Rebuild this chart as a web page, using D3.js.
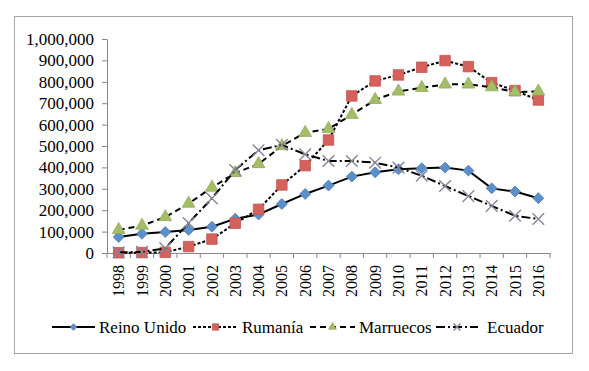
<!DOCTYPE html>
<html>
<head>
<meta charset="utf-8">
<script src="https://cdn.jsdelivr.net/npm/d3@7"></script>
<style>
  html, body { margin: 0; padding: 0; background: #fff; }
</style>
</head>
<body>
<div id="chart"></div>
<script>
const years = ['1998', '1999', '2000', '2001', '2002', '2003', '2004', '2005', '2006', '2007',
  '2008', '2009', '2010', '2011', '2012', '2013', '2014', '2015', '2016'];

const reinoUnido = [75000, 90000, 98000, 108000, 123000, 160000, 180000, 229000, 276000, 315000,
  357000, 377000, 391000, 396000, 399000, 385000, 302000, 287000, 256000];
const rumania = [1000, 2000, 3000, 30000, 65000, 139000, 204000, 318000, 408000, 528000,
  734000, 804000, 832000, 868000, 899000, 871000, 796000, 759000, 715000];
const marruecos = [108000, 128000, 168000, 231000, 306000, 374000, 416000, 500000, 562000, 580000,
  646000, 716000, 755000, 772000, 788000, 788000, 775000, 752000, 755000];
const ecuador = [3000, 5000, 22000, 140000, 255000, 388000, 480000, 505000, 461000, 430000,
  430000, 422000, 399000, 361000, 313000, 266000, 220000, 174000, 159000];

const yTicks = [0, 100000, 200000, 300000, 400000, 500000, 600000, 700000, 800000, 900000, 1000000];

const series = [
  { name: 'Reino Unido', values: reinoUnido, dash: null, marker: 'diamond', color: '#5b8fc9' },
  { name: 'Rumanía', values: rumania, dash: '3,2', marker: 'square', color: '#d6605c' },
  { name: 'Marruecos', values: marruecos, dash: '6,4', marker: 'triangle', color: '#a3be65' },
  { name: 'Ecuador', values: ecuador, dash: '9,3,2,3', marker: 'x', color: '#85859a' }
];

const width = 589;
const height = 371;
const plot = { left: 107, right: 550, top: 39, bottom: 253 };
const serif = '"Liberation Serif", "Times New Roman", serif';

const svg = d3.select('#chart').append('svg')
  .attr('width', width)
  .attr('height', height);

// outer frame
svg.append('rect')
  .attr('x', 14.5).attr('y', 16.5)
  .attr('width', 558).attr('height', 337)
  .attr('fill', '#fff')
  .attr('stroke', '#a6a6a6');

const x = d3.scaleBand().domain(years).range([plot.left, plot.right]).padding(0);
const y = d3.scaleLinear().domain([0, 1000000]).range([plot.bottom, plot.top]);
const cx = (year) => x(year) + x.bandwidth() / 2;

const fmt = d3.format(',');

// y axis
const yAxis = svg.append('g')
  .attr('transform', `translate(${plot.left},0)`)
  .call(d3.axisLeft(y).tickValues(yTicks).tickFormat(fmt).tickSize(5).tickSizeOuter(0).tickPadding(8));

yAxis.selectAll('.tick text')
  .style('font-family', serif)
  .style('font-size', '17px');

// x axis with ticks between categories
const xAxis = svg.append('g')
  .attr('transform', `translate(0,${plot.bottom})`)
  .call(d3.axisBottom(x).tickSize(0).tickSizeOuter(0));

xAxis.selectAll('.tick text')
  .attr('transform', 'rotate(-90)')
  .attr('text-anchor', 'end')
  .attr('x', -12)
  .attr('y', 0)
  .attr('dy', '0.35em')
  .style('font-family', serif)
  .style('font-size', '16px');

xAxis.selectAll('.boundary')
  .data(years.concat(['end']))
  .join('line')
  .attr('class', 'boundary')
  .attr('x1', (d, i) => plot.left + i * x.bandwidth())
  .attr('x2', (d, i) => plot.left + i * x.bandwidth())
  .attr('y1', 0)
  .attr('y2', 5);

[yAxis, xAxis].forEach((axis) => {
  axis.selectAll('path, line').attr('stroke', '#878787').attr('stroke-width', 1);
  axis.selectAll('text').attr('fill', '#000');
});

function markerPath(kind, scale) {
  const s = scale || 1;
  if (kind === 'diamond') return d3.symbol(d3.symbolSquare, 60 * s * s)();
  if (kind === 'square') return d3.symbol(d3.symbolSquare, 110 * s * s)();
  if (kind === 'triangle') return d3.symbol(d3.symbolTriangle, 70 * s * s)();
  return d3.symbol(d3.symbolX, 90 * s * s)();
}

function drawMarker(g, kind, color, px, py, scale) {
  const p = g.append('path')
    .attr('d', markerPath(kind, scale))
    .attr('transform', `translate(${px},${py})${kind === 'diamond' ? ' rotate(45)' : ''}`);
  if (kind === 'x') {
    p.attr('fill', 'none').attr('stroke', color).attr('stroke-width', 1.4);
  } else {
    p.attr('fill', color).attr('stroke', d3.color(color).darker(0.3)).attr('stroke-width', 0.8);
  }
}

const line = d3.line()
  .x((d, i) => cx(years[i]))
  .y((d) => y(d));

series.forEach((s) => {
  const g = svg.append('g').attr('class', 'series');
  g.append('path')
    .datum(s.values)
    .attr('d', line)
    .attr('fill', 'none')
    .attr('stroke', '#000')
    .attr('stroke-width', 2)
    .attr('stroke-dasharray', s.dash);
  s.values.forEach((v, i) => drawMarker(g, s.marker, s.color, cx(years[i]), y(v)));
});

// legend
const legendItems = [
  { x0: 52, x1: 95, tx: 99 },
  { x0: 193, x1: 238, tx: 242 },
  { x0: 310, x1: 355, tx: 359 },
  { x0: 436, x1: 478, tx: 487 }
];
const legendY = 327;
const legend = svg.append('g').attr('class', 'legend');
series.forEach((s, i) => {
  const pos = legendItems[i];
  const g = legend.append('g');
  g.append('line')
    .attr('x1', pos.x0).attr('x2', pos.x1)
    .attr('y1', legendY).attr('y2', legendY)
    .attr('stroke', '#000')
    .attr('stroke-width', 2)
    .attr('stroke-dasharray', s.dash);
  drawMarker(g, s.marker, s.color, (pos.x0 + pos.x1) / 2, legendY, 0.6);
  g.append('text')
    .attr('x', pos.tx)
    .attr('y', legendY)
    .attr('dy', '0.35em')
    .attr('fill', '#000')
    .style('font-family', serif)
    .style('font-size', '17px')
    .text(s.name);
});
</script>
</body>
</html>
